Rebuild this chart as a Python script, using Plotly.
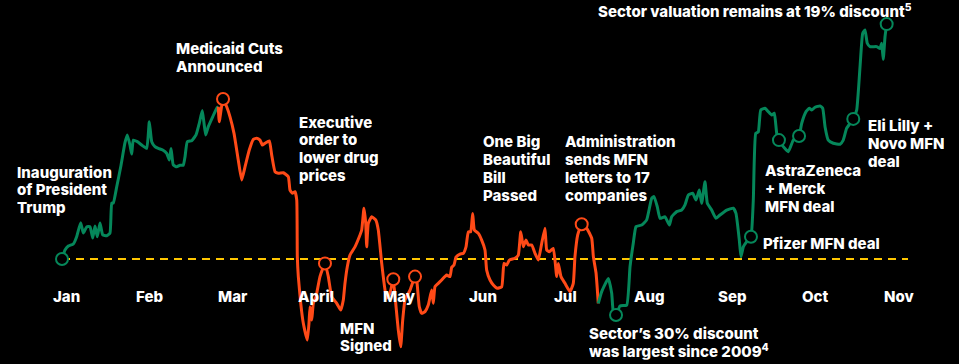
import plotly.graph_objects as go

# x = months since start of January (0 = Jan, 1 = Feb, ...); y = sector valuation discount (%)
phase1_x = [-0.048, -0.012, 0.028, 0.088, 0.128, 0.176, 0.208, 0.248, 0.288, 0.321, 0.348, 0.376, 0.408,
            0.441, 0.489, 0.528, 0.549, 0.568, 0.609, 0.657, 0.708, 0.736, 0.768, 0.789, 0.808, 0.856,
            0.909, 0.969, 1.000, 1.029, 1.068, 1.108, 1.161, 1.209, 1.240, 1.261, 1.288, 1.329, 1.369,
            1.408, 1.429, 1.456, 1.509, 1.561, 1.600, 1.636, 1.657, 1.677, 1.708, 1.761, 1.809, 1.828]
phase1_y = [28.30, 27.95, 27.80, 27.72, 27.44, 26.90, 27.30, 27.06, 27.05, 27.49, 27.03, 27.44, 26.91,
            27.37, 27.40, 27.30, 26.14, 26.14, 25.51, 24.74, 23.81, 23.51, 23.90, 24.25, 23.71, 23.77,
            23.90, 24.03, 23.00, 23.77, 23.96, 24.03, 24.09, 24.22, 24.48, 24.03, 24.67, 24.74, 24.68,
            24.68, 24.35, 23.77, 23.73, 23.51, 23.06, 22.57, 23.06, 23.51, 23.19, 22.81, 22.48, 22.42]

phase2_x = [1.828, 1.840, 1.885, 1.929, 1.969, 2.017, 2.068, 2.109, 2.149, 2.200, 2.249, 2.289, 2.329,
            2.357, 2.389, 2.441, 2.469, 2.509, 2.549, 2.609, 2.669, 2.689, 2.717, 2.749, 2.770, 2.777,
            2.789, 2.818, 2.849, 2.897, 2.917, 2.929, 2.950, 2.969, 3.001, 3.049, 3.109, 3.149, 3.190,
            3.250, 3.298, 3.329, 3.349, 3.377, 3.409, 3.469, 3.521, 3.550, 3.577, 3.598, 3.610, 3.629,
            3.670, 3.718, 3.749, 3.790, 3.830, 3.850, 3.890, 3.929, 3.962, 3.989, 4.018, 4.042, 4.070,
            4.130, 4.190, 4.210, 4.241, 4.270, 4.310, 4.349, 4.390, 4.409, 4.430, 4.469, 4.510, 4.570,
            4.610, 4.630, 4.658, 4.682, 4.730, 4.770, 4.802, 4.830, 4.858, 4.882, 4.902, 4.950, 4.990,
            5.030, 5.050, 5.090, 5.130, 5.178, 5.231, 5.258, 5.290, 5.322, 5.390, 5.430, 5.459, 5.490,
            5.522, 5.550, 5.591, 5.630, 5.670, 5.711, 5.750, 5.771, 5.802, 5.850, 5.891, 5.910, 5.942,
            5.990, 6.050, 6.090, 6.110, 6.143, 6.191, 6.251, 6.311, 6.331, 6.363, 6.390]
phase2_y = [22.42, 23.00, 22.12, 22.42, 22.81, 23.45, 24.48, 25.25, 24.74, 24.09, 23.68, 23.64, 23.71,
            23.90, 23.83, 23.74, 24.28, 24.93, 24.99, 24.97, 25.12, 25.64, 25.76, 25.70, 26.02, 28.21,
            28.98, 30.01, 30.78, 31.43, 30.78, 30.14, 30.66, 30.01, 29.76, 28.98, 28.47, 28.98, 29.76,
            30.01, 30.27, 29.88, 29.24, 28.60, 28.15, 27.83, 27.44, 27.18, 26.34, 26.92, 27.83, 26.92,
            26.67, 26.79, 27.18, 28.47, 29.50, 29.82, 29.61, 29.08, 30.14, 31.04, 31.69, 30.66, 29.88,
            29.50, 28.98, 29.11, 30.14, 30.40, 30.33, 30.08, 29.50, 30.01, 29.37, 29.24, 29.11, 28.92,
            28.98, 28.62, 28.53, 28.23, 28.11, 28.08, 27.83, 27.25, 27.25, 26.54, 27.18, 27.31, 27.57,
            27.95, 28.73, 29.11, 29.30, 29.43, 29.37, 28.47, 28.53, 28.34, 28.27, 28.15, 27.25, 27.83,
            27.57, 27.76, 27.76, 28.08, 28.34, 27.69, 27.11, 27.95, 28.02, 27.89, 28.98, 28.47, 28.98,
            29.24, 29.56, 29.24, 28.21, 27.37, 26.96, 27.11, 27.50, 28.21, 28.84, 30.01]

phase3_x = [6.390, 6.431, 6.510, 6.551, 6.570, 6.603, 6.651, 6.731, 6.771, 6.810, 6.843, 6.911, 6.971,
            7.031, 7.059, 7.098, 7.131, 7.191, 7.243, 7.271, 7.331, 7.391, 7.431, 7.471, 7.523, 7.563,
            7.603, 7.631, 7.671, 7.699, 7.751, 7.803, 7.851, 7.932, 8.011, 8.043, 8.083, 8.103, 8.131,
            8.172, 8.223, 8.251, 8.280, 8.311, 8.340, 8.391, 8.431, 8.472, 8.503, 8.532, 8.559, 8.611,
            8.671, 8.731, 8.800, 8.832, 8.884, 8.923, 8.952, 8.992, 9.052, 9.084, 9.112, 9.151, 9.211,
            9.292, 9.331, 9.372, 9.451, 9.492, 9.532, 9.564, 9.592, 9.619, 9.652, 9.732, 9.772, 9.792,
            9.811, 9.832, 9.852]
phase3_y = [30.01, 29.56, 29.05, 29.62, 30.33, 30.46, 30.11, 30.08, 28.60, 27.69, 27.05, 26.99, 26.79,
            25.96, 25.89, 26.28, 26.73, 26.67, 26.99, 26.67, 26.47, 26.41, 26.21, 25.83, 25.76, 26.02,
            25.64, 26.15, 25.32, 26.15, 26.41, 26.73, 26.60, 26.41, 26.34, 26.54, 27.57, 28.21, 27.83,
            27.63, 27.44, 26.02, 23.45, 23.39, 22.55, 22.48, 22.61, 22.74, 22.67, 23.45, 23.71, 23.96,
            24.16, 23.71, 23.55, 23.06, 22.61, 22.48, 22.55, 22.44, 22.39, 22.48, 23.19, 23.71, 23.83,
            23.87, 23.71, 23.25, 22.89, 22.55, 20.88, 19.59, 19.46, 19.97, 20.10, 20.10, 20.17, 19.97,
            20.59, 19.72, 19.23]

# event markers
event_green_x = [-0.048, 6.603, 8.223, 8.559, 8.800, 9.451, 9.852]
event_green_y = [28.30, 30.46, 27.44, 23.71, 23.55, 22.89, 19.23]
event_orange_x = [1.885, 3.109, 3.929, 4.190, 6.191]
event_orange_y = [22.12, 28.47, 29.08, 28.98, 26.96]

start_level = 28.30
month_labels = ["Jan", "Feb", "Mar", "April", "May", "Jun", "Jul", "Aug", "Sep", "Oct", "Nov"]

GREEN = "#05875a"
ORANGE = "#ff4a17"
GOLD = "#ffc700"
W, H = 959, 364
X0PX, PXPERM = 66.0, 83.3
Y0PX, PXPERPT = 259.0, 25.9
LINE_H = 17.8


def px2x(px):
    return (px - X0PX) / PXPERM


def py2y(py):
    return start_level + (py - Y0PX) / PXPERPT


fig = go.Figure()

fig.add_trace(go.Scatter(x=[phase1_x[0], px2x(908)], y=[start_level, start_level], mode="lines",
                         line=dict(color=GOLD, width=2.2, dash="8px,6px"), hoverinfo="skip"))

for xs, ys, col in [(phase1_x, phase1_y, GREEN), (phase2_x, phase2_y, ORANGE), (phase3_x, phase3_y, GREEN)]:
    fig.add_trace(go.Scatter(x=xs, y=ys, mode="lines",
                             line=dict(color=col, width=3, shape="spline", smoothing=0.4)))

fig.add_trace(go.Scatter(x=event_green_x, y=event_green_y, mode="markers",
                         marker=dict(size=12, color="black", line=dict(color=GREEN, width=2))))
fig.add_trace(go.Scatter(x=event_orange_x, y=event_orange_y, mode="markers",
                         marker=dict(size=12, color="black", line=dict(color=ORANGE, width=2))))

FONT = dict(family="Inter", size=15, color="white", weight=800)

for i, lab in enumerate(month_labels):
    fig.add_annotation(x=i, y=py2y(296), text=lab, showarrow=False,
                       xanchor="center", yanchor="middle", font=FONT)

# (left px, first line centre px, lines)
notes = [
    (16, 171, ["Inauguration", "of President", "Trump"]),
    (175, 47.5, ["Medicaid Cuts", "Announced"]),
    (298, 121, ["Executive", "order to", "lower drug", "prices"]),
    (339, 327, ["MFN", "Signed"]),
    (482, 141, ["One Big", "Beautiful", "Bill", "Passed"]),
    (564, 141, ["Administration", "sends MFN", "letters to 17", "companies"]),
    (588, 332, ["Sector\u2019s 30% discount", "was largest since 2009<sup>4</sup>"]),
    (764, 169.5, ["AstraZeneca", "+ Merck", "MFN deal"]),
    (762, 243, ["Pfizer MFN deal"]),
    (867, 124.5, ["Eli Lilly +", "Novo MFN", "deal"]),
    (597, 9, ["Sector valuation remains at 19% discount<sup>5</sup>"]),
]
for px, py, lines in notes:
    for k, txt in enumerate(lines):
        cy = py + k * LINE_H + 1.5
        fig.add_annotation(x=px / W, y=1 - cy / H, xref="paper", yref="paper",
                           text=txt, showarrow=False, height=LINE_H,
                           xanchor="left", yanchor="middle", align="left", valign="middle",
                           font=FONT, borderpad=0)

fig.update_layout(
    width=W, height=H, margin=dict(l=0, r=0, t=0, b=0),
    paper_bgcolor="black", plot_bgcolor="black", showlegend=False,
    xaxis=dict(range=[px2x(0), px2x(W)], visible=False, fixedrange=True),
    yaxis=dict(range=[py2y(H), py2y(0)], visible=False, fixedrange=True),
)

fig.write_html("out.html", config={"displayModeBar": False},
               post_script="document.body.style.margin='0';document.body.style.background='black';")
